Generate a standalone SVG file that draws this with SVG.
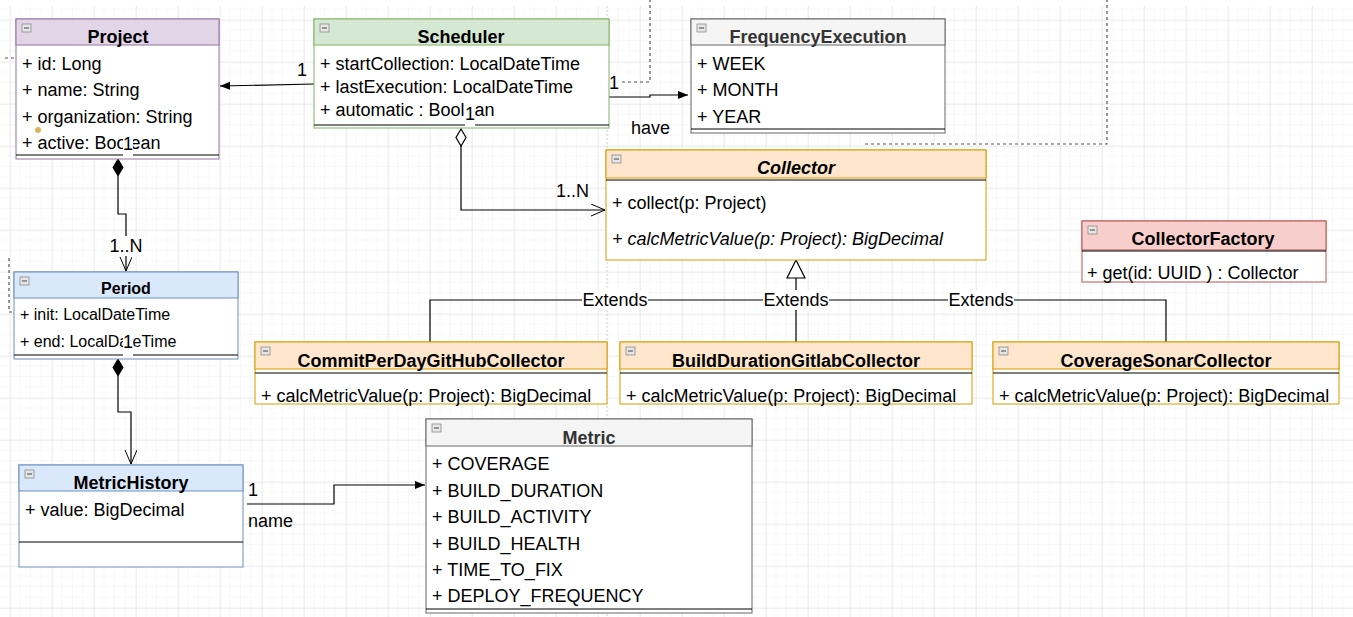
<svg xmlns="http://www.w3.org/2000/svg" width="1353" height="617" viewBox="0 0 1353 617">
<defs>
<pattern id="minor" x="10" y="20" width="10.5" height="10.5" patternUnits="userSpaceOnUse"><path d="M10.5,0 V10.5 M0,10.5 H10.5" fill="none" stroke="#f1f1f1" stroke-width="1"/></pattern>
<pattern id="major" x="10" y="20" width="42" height="42" patternUnits="userSpaceOnUse"><path d="M0,0 V42 M0,0 H42" fill="none" stroke="#e2e2e2" stroke-width="1"/></pattern>
<marker id="block" markerUnits="userSpaceOnUse" markerWidth="12" markerHeight="10" refX="10" refY="4" orient="auto"><path d="M0,0 L10,4 L0,8 Z" fill="#000"/></marker>
<marker id="open" markerUnits="userSpaceOnUse" markerWidth="16" markerHeight="14" refX="14" refY="6" orient="auto"><path d="M0,0 L14,6 L0,12" fill="none" stroke="#000" stroke-width="1"/></marker>
<g id="icon"><rect x="0" y="0" width="9" height="8" fill="#e6e6e6" stroke="#8a8a8a" stroke-width="0.8"/><path d="M2,4 H7" stroke="#444" stroke-width="1"/></g>
</defs>
<style>
text{font-family:"Liberation Sans",Arial,sans-serif;fill:#000}
.t{font-size:18px;font-weight:bold;text-anchor:middle}
.a{font-size:18px}
.s{font-size:16px}
.ts{font-size:16px;font-weight:bold;text-anchor:middle}
.g{fill:#333}
.body{fill:#fff}
.line{fill:none;stroke:#000;stroke-width:1.2}
.dash{fill:none;stroke:#555;stroke-width:1.2;stroke-dasharray:3 3}
.lbl{font-size:18px}
.wb{fill:#fff}
</style>
<rect x="0" y="0" width="1353" height="617" fill="#fff"/>
<rect x="0" y="6" width="1353" height="611" fill="url(#minor)"/>
<rect x="0" y="6" width="1353" height="611" fill="url(#major)"/>
<path d="M607,6 V617" fill="none" stroke="#cfcfcf" stroke-width="1" stroke-dasharray="2 2"/>

<g id="connectors">
<path class="dash" d="M5,58 H16"/>
<path class="dash" d="M9,258 V312 H13"/>
<path class="dash" d="M622,82 H650 V0"/>
<path class="dash" d="M865,144 H1107 V0"/>
<path class="line" d="M314,84 L220,86" marker-end="url(#block)"/>
<path class="line" d="M609,97 H650 V95 H688" marker-end="url(#block)"/>
<path class="line" d="M461,146 V210 H605" marker-end="url(#open)"/>
<polygon points="461,129 466,137.5 461,146 456,137.5" fill="#fff" stroke="#000" stroke-width="1.2"/>
<path class="line" d="M118,176 V214 H126 V271" marker-end="url(#open)"/>
<polygon points="118,159 123,167.5 118,176 113,167.5" fill="#000" stroke="#000"/>
<path class="line" d="M118,376 V412 H131 V464" marker-end="url(#open)"/>
<polygon points="118,359 123,367.5 118,376 113,367.5" fill="#000" stroke="#000"/>
<path class="line" d="M247,504 H334 V485 H425" marker-end="url(#block)"/>
<path class="line" d="M796,278 V342 M430,342 V300 H1166 V342"/>
<polygon points="796,260 805,278 787,278" fill="#fff" stroke="#000" stroke-width="1.2"/>
<rect class="wb" x="582" y="290" width="66" height="20"/>
<text class="lbl" x="615" y="306" text-anchor="middle">Extends</text>
<rect class="wb" x="763" y="290" width="66" height="20"/>
<text class="lbl" x="796" y="306" text-anchor="middle">Extends</text>
<rect class="wb" x="948" y="290" width="66" height="20"/>
<text class="lbl" x="981" y="306" text-anchor="middle">Extends</text>
<text class="lbl" x="297" y="76">1</text>
<text class="lbl" x="609" y="89">1</text>
<text class="lbl" x="631" y="134">have</text>
<text class="lbl" x="556" y="197">1..N</text>
<rect class="wb" x="106" y="236" width="40" height="20"/>
<text class="lbl" x="126" y="252" text-anchor="middle">1..N</text>
<text class="lbl" x="248" y="496">1</text>
<text class="lbl" x="248" y="527">name</text>
</g>

<g id="Project">
<rect x="16" y="19" width="203" height="140" class="body" stroke="#9673a6"/>
<rect x="16" y="19" width="203" height="26" fill="#e1d5e7" stroke="#9673a6"/>
<use href="#icon" x="22" y="24"/>
<text class="t" x="118" y="43">Project</text>
<text class="a" x="22" y="70">+ id: Long</text>
<text class="a" x="22" y="96">+ name: String</text>
<text class="a" x="22" y="123">+ organization: String</text>
<text class="a" x="22" y="149">+ active: Boolean</text>
<path d="M16,155 H219" stroke="#000" stroke-width="1"/>
<circle cx="38" cy="130" r="3" fill="#e0b35a"/>
<rect class="wb" x="123" y="133" width="10" height="24"/>
<text class="lbl" x="128" y="150" text-anchor="middle">1</text>
</g>

<g id="Scheduler">
<rect x="314" y="19" width="295" height="109" class="body" stroke="#82b366"/>
<rect x="314" y="19" width="295" height="26" fill="#d5e8d4" stroke="#82b366"/>
<use href="#icon" x="320" y="24"/>
<text class="t" x="461" y="43">Scheduler</text>
<text class="a" x="320" y="70">+ startCollection: LocalDateTime</text>
<text class="a" x="320" y="93">+ lastExecution: LocalDateTime</text>
<text class="a" x="320" y="116">+ automatic : Boolean</text>
<path d="M314,125 H609" stroke="#000" stroke-width="1"/>
<rect class="wb" x="465" y="103" width="10" height="24"/>
<text class="lbl" x="470" y="120" text-anchor="middle">1</text>
</g>

<g id="FrequencyExecution">
<rect x="691" y="19" width="254" height="114" class="body" stroke="#666"/>
<rect x="691" y="19" width="254" height="26" fill="#f5f5f5" stroke="#666"/>
<use href="#icon" x="697" y="24"/>
<text class="t g" x="818" y="43">FrequencyExecution</text>
<text class="a" x="697" y="70">+ WEEK</text>
<text class="a" x="697" y="96">+ MONTH</text>
<text class="a" x="697" y="123">+ YEAR</text>
<path d="M691,129 H945" stroke="#000" stroke-width="1"/>
</g>

<g id="Collector">
<rect x="606" y="150" width="380" height="110" class="body" stroke="#d79b00"/>
<rect x="606" y="150" width="380" height="28" fill="#ffe6cc" stroke="#d79b00"/>
<path d="M606,180 H986" stroke="#000" stroke-width="1"/>
<use href="#icon" x="612" y="155"/>
<text class="t" x="796" y="174" font-style="italic">Collector</text>
<text class="a" x="612" y="209">+ collect(p: Project)</text>
<text class="a" x="612" y="245" font-style="italic">+ calcMetricValue(p: Project): BigDecimal</text>
</g>

<g id="CollectorFactory">
<rect x="1082" y="221" width="244" height="61" class="body" stroke="#b85450"/>
<rect x="1082" y="221" width="244" height="29" fill="#f8cecc" stroke="#b85450"/>
<path d="M1082,251 H1326" stroke="#000" stroke-width="1"/>
<use href="#icon" x="1088" y="226"/>
<text class="t" x="1203" y="245">CollectorFactory</text>
<text class="a" x="1087" y="279">+ get(id: UUID ) : Collector</text>
</g>

<g id="CommitPerDayGitHubCollector">
<rect x="255" y="342" width="352" height="62" class="body" stroke="#d79b00"/>
<rect x="255" y="342" width="352" height="27" fill="#ffe6cc" stroke="#d79b00"/>
<path d="M255,373 H607" stroke="#000" stroke-width="1"/>
<use href="#icon" x="261" y="347"/>
<text class="t" x="431" y="367">CommitPerDayGitHubCollector</text>
<text class="a" x="261" y="402">+ calcMetricValue(p: Project): BigDecimal</text>
</g>

<g id="BuildDurationGitlabCollector">
<rect x="620" y="342" width="352" height="62" class="body" stroke="#d79b00"/>
<rect x="620" y="342" width="352" height="27" fill="#ffe6cc" stroke="#d79b00"/>
<path d="M620,373 H972" stroke="#000" stroke-width="1"/>
<use href="#icon" x="626" y="347"/>
<text class="t" x="796" y="367">BuildDurationGitlabCollector</text>
<text class="a" x="626" y="402">+ calcMetricValue(p: Project): BigDecimal</text>
</g>

<g id="CoverageSonarCollector">
<rect x="993" y="342" width="346" height="62" class="body" stroke="#d79b00"/>
<rect x="993" y="342" width="346" height="27" fill="#ffe6cc" stroke="#d79b00"/>
<path d="M993,373 H1339" stroke="#000" stroke-width="1"/>
<use href="#icon" x="999" y="347"/>
<text class="t" x="1166" y="367">CoverageSonarCollector</text>
<text class="a" x="999" y="402">+ calcMetricValue(p: Project): BigDecimal</text>
</g>

<g id="Period">
<rect x="14" y="272" width="224" height="87" class="body" stroke="#6c8ebf"/>
<rect x="14" y="272" width="224" height="26" fill="#dae8fc" stroke="#6c8ebf"/>
<use href="#icon" x="20" y="277"/>
<text class="ts" x="126" y="294">Period</text>
<text class="s" x="20" y="320">+ init: LocalDateTime</text>
<text class="s" x="20" y="347">+ end: LocalDateTime</text>
<path d="M14,355 H238" stroke="#000" stroke-width="1"/>
<rect class="wb" x="123" y="331" width="10" height="26"/>
<text class="lbl" x="128" y="348" text-anchor="middle">1</text>
</g>

<g id="MetricHistory">
<rect x="19" y="465" width="224" height="102" class="body" stroke="#6c8ebf"/>
<rect x="19" y="465" width="224" height="26" fill="#dae8fc" stroke="#6c8ebf"/>
<use href="#icon" x="25" y="470"/>
<text class="t" x="131" y="489">MetricHistory</text>
<text class="a" x="25" y="516">+ value: BigDecimal</text>
<path d="M19,542 H243" stroke="#000" stroke-width="1"/>
</g>

<g id="Metric">
<rect x="426" y="419" width="326" height="194" class="body" stroke="#666"/>
<rect x="426" y="419" width="326" height="27" fill="#f5f5f5" stroke="#666"/>
<use href="#icon" x="432" y="424"/>
<text class="t g" x="589" y="444">Metric</text>
<text class="a" x="432" y="470">+ COVERAGE</text>
<text class="a" x="432" y="497">+ BUILD_DURATION</text>
<text class="a" x="432" y="523">+ BUILD_ACTIVITY</text>
<text class="a" x="432" y="550">+ BUILD_HEALTH</text>
<text class="a" x="432" y="576">+ TIME_TO_FIX</text>
<text class="a" x="432" y="602">+ DEPLOY_FREQUENCY</text>
<path d="M426,609 H752" stroke="#000" stroke-width="1"/>
</g>
</svg>
